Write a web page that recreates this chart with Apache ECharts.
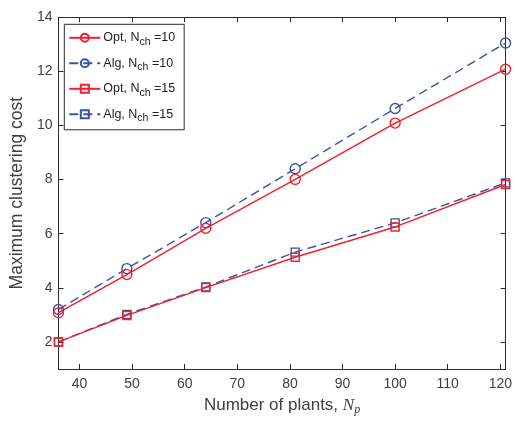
<!DOCTYPE html>
<html>
<head>
<meta charset="utf-8">
<script src="https://cdn.jsdelivr.net/npm/echarts@6/dist/echarts.min.js"></script>
<style>html,body{margin:0;padding:0;background:#fff}#c{width:515px;height:421px}</style>
</head>
<body>
<div id="c"></div>
<script>
const plants = [36, 49, 64, 81, 100, 121];
const optCh10 = [3.08, 4.49, 6.20, 8.01, 10.09, 12.08];
const algCh10 = [3.20, 4.71, 6.41, 8.40, 10.63, 13.05];
const optCh15 = [2.00, 2.98, 4.01, 5.13, 6.25, 7.82];
const algCh15 = [2.00, 3.02, 4.03, 5.32, 6.40, 7.88];
const xTicks = [40, 50, 60, 70, 80, 90, 100, 110, 120];
const yTicks = [2, 4, 6, 8, 10, 12, 14];
const seriesNames = ['Opt, Nch=10', 'Alg, Nch=10', 'Opt, Nch=15', 'Alg, Nch=15'];

const RED = '#f2202a', BLUE = '#3a53a4', AX = '#2b2b2b', LAB = '#404040';
const FONT = '"Liberation Sans", Arial, Helvetica, sans-serif';

function pairs(ys){ return plants.map((x,i)=>[x, ys[i]]); }

const legendFmt = name => {
  const m = name.match(/^(.*)Nch(=\d+)$/);
  return '{a|' + m[1] + 'N}{s|ch}{a| ' + m[2] + '}';
};

const baseX = {type:'value', min:36, max:121, splitLine:{show:false}};
const baseY = {type:'value', min:1, max:14, splitLine:{show:false}};

const option = {
  animation:false,
  backgroundColor:'#fff',
  textStyle:{fontFamily:FONT},
  grid:{left:56.7, right:6.5, top:17.3, bottom:46, containLabel:false},
  legend:{
    orient:'vertical', left:64.3, top:24.3,
    data:seriesNames,
    borderColor:AX, borderWidth:1, borderRadius:0,
    padding:[4, 9, 6, 4], itemGap:6.5, itemWidth:31, itemHeight:10,
    backgroundColor:'#fff',
    formatter:legendFmt,
    itemStyle:{borderType:'solid', color:'rgba(0,0,0,0)'},
    textStyle:{
      padding:[0,0,0,-2],
      rich:{
        a:{fontSize:12.5, color:'#222', fontFamily:FONT, lineHeight:16},
        s:{fontSize:10.5, color:'#222', fontFamily:FONT, lineHeight:16, padding:[8,0,0,0]}
      }
    }
  },
  xAxis:[
    Object.assign({}, baseX, {
      position:'bottom',
      name:'Number of plants, {n|N}{p|p}',
      nameLocation:'middle', nameGap:26,
      nameTextStyle:{fontSize:17, color:LAB, fontFamily:FONT,
        rich:{n:{fontSize:17, fontStyle:'italic', fontFamily:'"Liberation Serif", "DejaVu Serif", serif', color:LAB},
              p:{fontSize:12, fontStyle:'italic', fontFamily:'"Liberation Serif", "DejaVu Serif", serif', color:LAB, padding:[9,0,0,0]}}},
      axisLine:{show:true, onZero:false, lineStyle:{color:AX, width:1}},
      axisTick:{show:true, inside:true, length:5, customValues:xTicks, lineStyle:{color:AX}},
      axisLabel:{customValues:xTicks, fontSize:14, color:LAB, margin:8, fontFamily:FONT}
    }),
    Object.assign({}, baseX, {
      position:'top',
      axisLine:{show:true, onZero:false, lineStyle:{color:AX, width:1}},
      axisTick:{show:true, inside:true, length:5, customValues:xTicks, lineStyle:{color:AX}},
      axisLabel:{show:false}
    })
  ],
  yAxis:[
    Object.assign({}, baseY, {
      position:'left',
      name:'Maximum clustering cost',
      nameLocation:'middle', nameGap:30,
      nameTextStyle:{fontSize:17.5, color:LAB, fontFamily:FONT},
      axisLine:{show:true, onZero:false, lineStyle:{color:AX, width:1}},
      axisTick:{show:true, inside:true, length:5, customValues:yTicks, lineStyle:{color:AX}},
      axisLabel:{customValues:yTicks, fontSize:14, color:LAB, margin:6, fontFamily:FONT}
    }),
    Object.assign({}, baseY, {
      position:'right',
      axisLine:{show:true, onZero:false, lineStyle:{color:AX, width:1}},
      axisTick:{show:true, inside:true, length:5, customValues:yTicks, lineStyle:{color:AX}},
      axisLabel:{show:false}
    })
  ],
  series:[
    {name:seriesNames[0], type:'line', data:pairs(optCh10), symbol:'circle', symbolSize:10,
     color:RED, lineStyle:{color:RED, width:1.4, type:'solid'},
     itemStyle:{color:'rgba(0,0,0,0)', borderColor:RED, borderWidth:1.4, borderType:'solid'}, z:3},
    {name:seriesNames[1], type:'line', data:pairs(algCh10), symbol:'circle', symbolSize:10,
     color:BLUE, lineStyle:{color:BLUE, width:1.4, type:[9,5]},
     itemStyle:{color:'rgba(0,0,0,0)', borderColor:BLUE, borderWidth:1.4, borderType:'solid'}, z:2},
    {name:seriesNames[2], type:'line', data:pairs(optCh15), symbol:'rect', symbolSize:8,
     color:RED, lineStyle:{color:RED, width:1.4, type:'solid'},
     itemStyle:{color:'rgba(0,0,0,0)', borderColor:RED, borderWidth:1.4, borderType:'solid'}, z:3},
    {name:seriesNames[3], type:'line', data:pairs(algCh15), symbol:'rect', symbolSize:8,
     color:BLUE, lineStyle:{color:BLUE, width:1.4, type:[9,5]},
     itemStyle:{color:'rgba(0,0,0,0)', borderColor:BLUE, borderWidth:1.4, borderType:'solid'}, z:2}
  ]
};
const chart = echarts.init(document.getElementById('c'), null, {renderer:'canvas'});
chart.setOption(option);
</script>
</body>
</html>
